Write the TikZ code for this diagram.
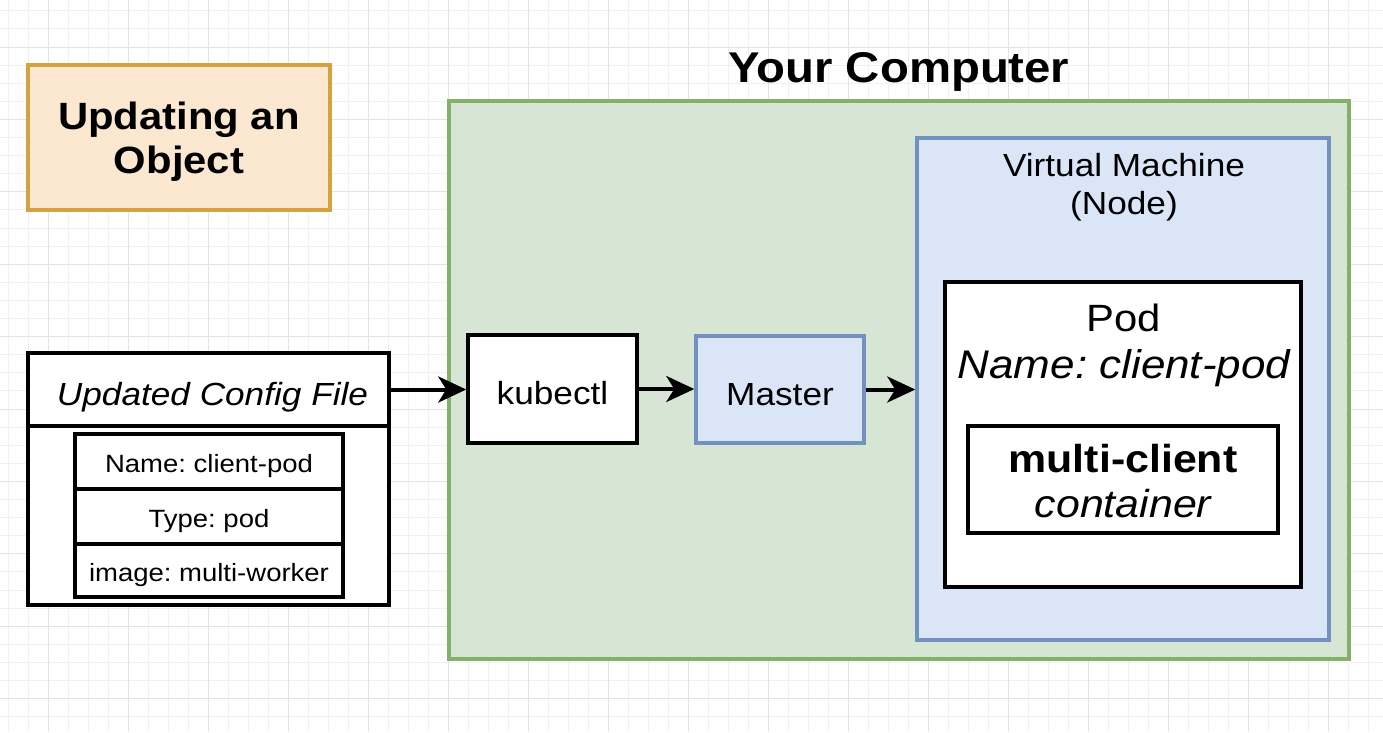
\documentclass[tikz,border=0pt]{standalone}
\usepackage{fontspec}
\setmainfont{Liberation Sans}[FakeStretch=1.1]
\usetikzlibrary{arrows.meta}
\frenchspacing

\definecolor{gridminor}{HTML}{F1F1F1}
\definecolor{gridmajor}{HTML}{E3E3E3}
\definecolor{peachfill}{HTML}{FCE7D0}
\definecolor{peachline}{HTML}{D6A240}
\definecolor{greenfill}{HTML}{D6E5D4}
\definecolor{greenline}{HTML}{85B06A}
\definecolor{bluefill}{HTML}{DAE6F8}
\definecolor{blueline}{HTML}{7291C0}

\tikzset{
  box/.style={rectangle, draw=black, fill=white, line width=3.5pt, inner sep=0pt},
  bluebox/.style={box, draw=blueline, fill=bluefill},
  plain/.style={inner sep=0pt, align=center},
  bigtext/.style={font=\fontsize{32}{38}\selectfont, text height=31pt, text depth=0pt},
  rowtext/.style={font=\fontsize{25}{30}\selectfont, text height=22.8pt, text depth=0pt},
  flow/.style={line width=4pt, -{Stealth[length=28pt, width=26pt, inset=8pt]}},
}

\begin{document}
\begin{tikzpicture}[x=1pt, y=-1pt]
% canvas and background grid
\fill[white] (0,0) rectangle (1383,732);
\useasboundingbox (0,0) rectangle (1383,732);
\foreach \i in {0,...,68} {
  \draw[gridminor, line width=1pt] ({8+20*\i},0) -- ({8+20*\i},732);
}
\foreach \j in {0,...,40} {
  \draw[gridminor, line width=1pt] (0,{10.8+18.1*\j}) -- (1383,{10.8+18.1*\j});
}
\foreach \i in {0,...,17} {
  \draw[gridmajor, line width=1pt] ({48+80*\i},0) -- ({48+80*\i},732);
}
\foreach \j in {0,...,10} {
  \draw[gridmajor, line width=1pt] (0,{47+72.4*\j}) -- (1383,{47+72.4*\j});
}

% heading box
\node[box, draw=peachline, fill=peachfill, minimum width=302pt, minimum height=145pt] (title) at (179,137.5) {};
\node[plain, font=\fontsize{38}{44}\selectfont\bfseries] (titletext) at (179,142) {Updating an\\Object};

% config file
\node[box, bigtext, minimum width=361pt, minimum height=73pt] (cfghead) at (208.5,389.5)
      {\itshape\hspace*{8pt}Updated Config File};
\node[box, minimum width=361pt, minimum height=179pt] (cfgbody) at (208.5,515.5) {};
\node[box, rowtext, minimum width=268pt, minimum height=55pt] (row1) at (209,461.5) {Name: client-pod};
\node[box, rowtext, minimum width=268pt, minimum height=55pt] (row2) at (209,516.5) {Type: pod};
\node[box, rowtext, minimum width=268pt, minimum height=53pt] (row3) at (209,570.5) {image: multi-worker};

% computer
\node[plain, font=\fontsize{43}{50}\selectfont\bfseries] (comptitle) at (899,72) {Your Computer};
\node[box, draw=greenline, fill=greenfill, minimum width=900pt, minimum height=558pt] (computer) at (899,380) {};

\node[box, bigtext, minimum width=169pt, minimum height=108pt] (kubectl) at (552.5,389) {kubectl};
\node[bluebox, bigtext, minimum width=168pt, minimum height=107pt] (master) at (780,389.5) {Master};

% virtual machine
\node[bluebox, minimum width=412pt, minimum height=502pt] (vm) at (1123,389) {};
\node[plain, font=\fontsize{32}{38}\selectfont] (vmlabel) at (1124,187) {Virtual Machine\\(Node)};

\node[box, minimum width=356pt, minimum height=305pt] (pod) at (1123,434.5) {};
\node[plain, font=\fontsize{38}{47}\selectfont] (podlabel) at (1124,345) {Pod\\\fontsize{40}{47}\selectfont\itshape Name: client-pod};
\node[box, minimum width=310pt, minimum height=107pt] (container) at (1123,479.5) {};
\node[plain, font=\fontsize{39}{45}\selectfont] (containertext) at (1123,481)
      {\bfseries multi-client\\\itshape container};

% connectors
\draw[flow] (cfghead.east) -- (cfghead.east -| kubectl.west);
\draw[flow] (kubectl.east) -- (kubectl.east -| master.west);
\draw[flow] (master.east) -- (master.east -| vm.west);
\end{tikzpicture}
\end{document}
